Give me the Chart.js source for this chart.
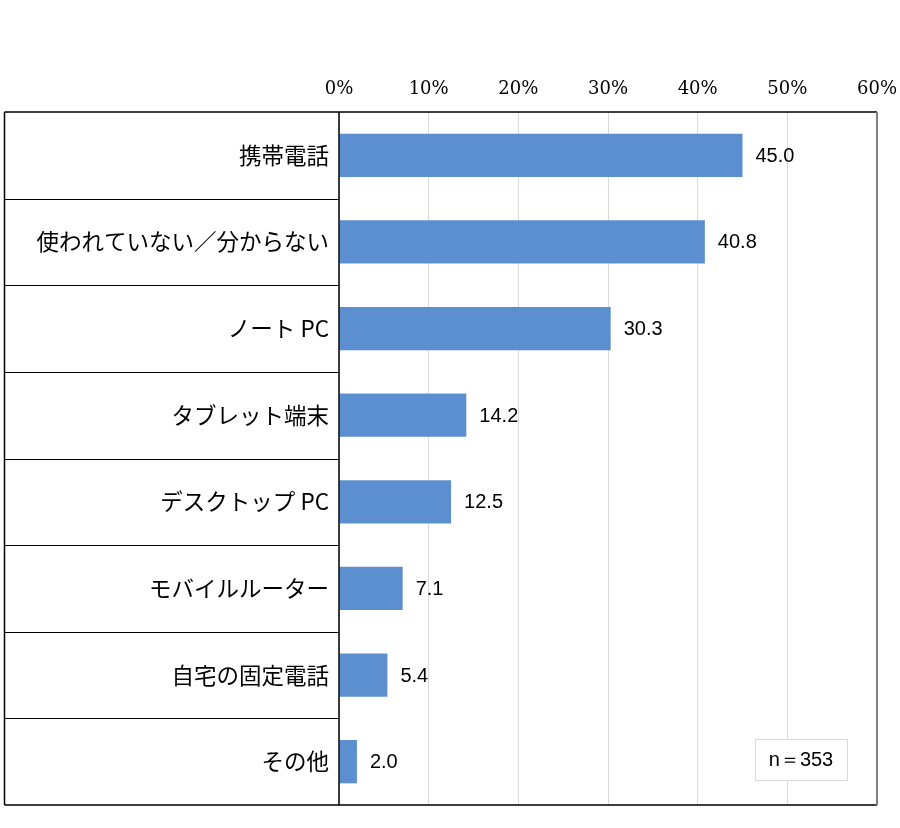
<!DOCTYPE html>
<html>
<head>
<meta charset="utf-8">
<script src="https://cdn.jsdelivr.net/npm/chart.js@4/dist/chart.umd.min.js"></script>
<style>
html,body{margin:0;padding:0;background:#fff;}
#wrap{width:900px;height:828px;}
</style>
</head>
<body>
<div id="wrap"><canvas id="c" width="900" height="828"></canvas></div>
<script>
const categories = ["携帯電話","使われていない／分からない","ノート PC","タブレット端末","デスクトップ PC","モバイルルーター","自宅の固定電話","その他"];
const values = [45.0, 40.8, 30.3, 14.2, 12.5, 7.1, 5.4, 2.0];
const tickValues = [0, 10, 20, 30, 40, 50, 60];
const sampleNote = "n＝353";

const tablePlugin = {
  id: 'tablePlugin',
  afterDraw(chart) {
    const ctx = chart.ctx;
    const ca = chart.chartArea;
    const ys = chart.scales.y;
    const left = 4.5;
    ctx.save();
    ctx.strokeStyle = '#000';
    ctx.lineWidth = 1;
    const n = categories.length;
    for (let i = 1; i < n; i++) {
      const yb = Math.round((ys.getPixelForValue(i - 1) + ys.getPixelForValue(i)) / 2) + 0.5;
      ctx.beginPath(); ctx.moveTo(left, yb); ctx.lineTo(ca.left, yb); ctx.stroke();
    }
    ctx.lineWidth = 1.5;
    ctx.beginPath();
    ctx.moveTo(left, ca.top); ctx.lineTo(ca.right, ca.top);
    ctx.moveTo(left, ca.bottom); ctx.lineTo(ca.right, ca.bottom);
    ctx.moveTo(left, ca.top); ctx.lineTo(left, ca.bottom);
    ctx.moveTo(ca.left, ca.top); ctx.lineTo(ca.left, ca.bottom);
    ctx.stroke();
    ctx.strokeStyle = '#7f7f7f';
    ctx.lineWidth = 2;
    ctx.beginPath(); ctx.moveTo(ca.right, ca.top); ctx.lineTo(ca.right, ca.bottom); ctx.stroke();

    const meta = chart.getDatasetMeta(0);
    ctx.fillStyle = '#000';
    ctx.font = '20px "Liberation Sans", Arial, sans-serif';
    ctx.textAlign = 'left';
    ctx.textBaseline = 'middle';
    meta.data.forEach((bar, i) => {
      ctx.fillText(values[i].toFixed(1), bar.x + 13, bar.y + 1);
    });

    const bx = ca.right - 122, by = ca.bottom - 66, bw = 92, bh = 41;
    ctx.fillStyle = '#fff';
    ctx.fillRect(bx, by, bw, bh);
    ctx.strokeStyle = '#d9d9d9';
    ctx.lineWidth = 1;
    ctx.strokeRect(bx + 0.5, by + 0.5, bw, bh);
    ctx.fillStyle = '#000';
    ctx.font = '20px "Liberation Sans", Arial, sans-serif';
    ctx.textAlign = 'center';
    ctx.fillText(sampleNote, bx + bw / 2, by + bh / 2 + 1);
    ctx.restore();
  }
};

new Chart(document.getElementById('c'), {
  type: 'bar',
  data: {
    labels: categories,
    datasets: [{
      data: values,
      backgroundColor: '#5B8FD0',
      borderWidth: 0,
      categoryPercentage: 1.0,
      barPercentage: 0.5
    }]
  },
  options: {
    indexAxis: 'y',
    responsive: false,
    animation: false,
    devicePixelRatio: 1,
    layout: { padding: { left: 4, right: 23, top: 0, bottom: 23 } },
    plugins: { legend: { display: false }, tooltip: { enabled: false } },
    scales: {
      x: {
        position: 'top',
        min: 0, max: 60,
        afterBuildTicks(scale) { scale.ticks = tickValues.map(v => ({ value: v })); },
        afterFit(scale) { scale.height = 112; scale.paddingLeft = 0; scale.paddingRight = 0; },
        ticks: {
          callback: v => v + '%',
          color: '#000',
          font: { family: '"DejaVu Serif", "Liberation Serif", serif', size: 18 },
          padding: 12,
          maxRotation: 0
        },
        grid: { color: '#d9d9d9', lineWidth: 1, drawTicks: false },
        border: { display: false }
      },
      y: {
        afterFit(scale) { scale.width = 335; },
        ticks: {
          color: '#000',
          font: { family: '"Noto Sans CJK JP", sans-serif', size: 22.5 },
          padding: 2
        },
        grid: { display: false },
        border: { display: false }
      }
    }
  },
  plugins: [tablePlugin]
});
</script>
</body>
</html>
